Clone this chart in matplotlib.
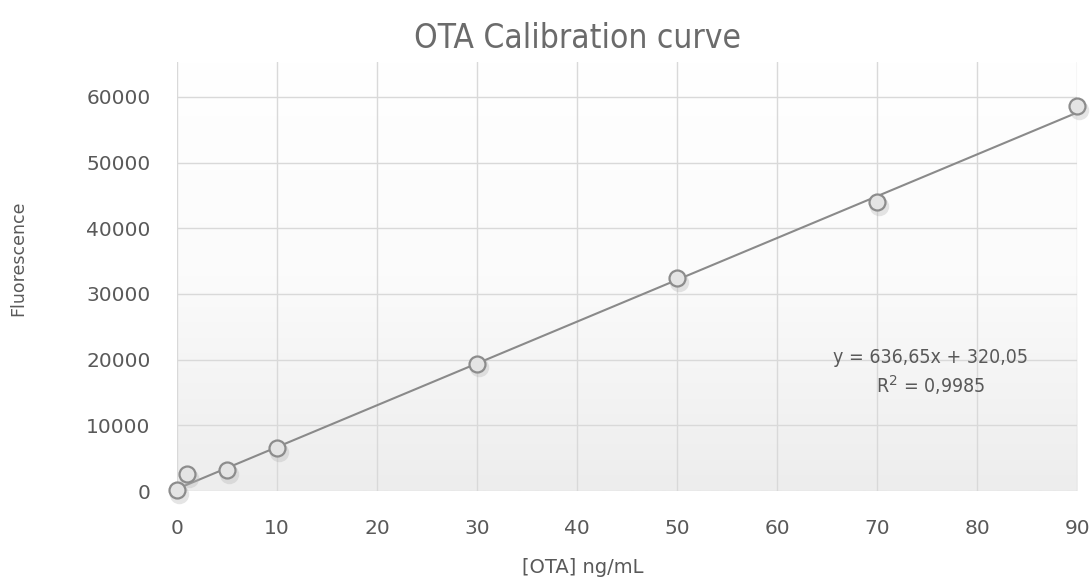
import numpy as np
import matplotlib.pyplot as plt
from matplotlib.colors import LinearSegmentedColormap

# calibration standards
conc = [0, 1, 5, 10, 30, 50, 70, 90]
fluor = [150, 2550, 3200, 6550, 19400, 32400, 44000, 58600]

# linear fit reported on the chart
slope, intercept, r2 = 636.65, 320.05, 0.9985

x_ticks = [0, 10, 20, 30, 40, 50, 60, 70, 80, 90]
y_ticks = [0, 10000, 20000, 30000, 40000, 50000, 60000]

fig = plt.figure(figsize=(10.91, 5.78), dpi=100)
ax = fig.add_axes([0.1622, 0.1505, 0.8253, 0.7422])

# soft vertical gradient behind the plot area (white at top, grey at bottom)
grad = np.linspace(0, 1, 256).reshape(-1, 1)
bg = LinearSegmentedColormap.from_list("bg", ["#ffffff", "#fbfbfb", "#ededed"])
ax.imshow(grad, extent=[0, 1, 0, 1], transform=ax.transAxes, aspect="auto",
          cmap=bg, zorder=0, interpolation="bilinear")

ax.set_xlim(0, 90)
ax.set_ylim(0, 65300)
ax.set_xticks(x_ticks)
ax.set_yticks(y_ticks)
ax.grid(True, color="#d9d9d9", linewidth=1)
ax.set_axisbelow(True)
for s in ax.spines.values():
    s.set_visible(False)
ax.tick_params(length=0, labelsize=14.5, colors="#595959")
ax.tick_params(axis="y", pad=19)
ax.tick_params(axis="x", pad=20)

xs = np.array([0, 90])
ax.plot(xs, slope * xs + intercept, color="#8a8a8a", linewidth=1.5, zorder=2)

# marker shadow, then markers
ax.plot(np.array(conc) + 0.2, np.array(fluor) - 550, "o", ms=14,
        color="#b5b5b5", alpha=0.35, markeredgewidth=0, zorder=3, clip_on=False)
ax.plot(conc, fluor, "o", ms=11.5, markerfacecolor="#e4e4e4",
        markeredgecolor="#8c8c8c", markeredgewidth=1.6, zorder=4, clip_on=False)

ax.text(0.837, 0.312, f"y = {slope:.2f}x + {intercept:.2f}".replace(".", ","),
        transform=ax.transAxes, ha="center", va="center", fontsize=14,
        color="#595959", fontstretch="condensed")
ax.text(0.837, 0.247, f"R$^2$ = {r2:.4f}".replace(".", ","),
        transform=ax.transAxes, ha="center", va="center", fontsize=14,
        color="#595959", fontstretch="condensed")

fig.text(0.529, 0.933, "OTA Calibration curve", ha="center", va="center",
         fontsize=24, color="#6b6b6b", fontstretch="condensed")
fig.text(0.017, 0.554, "Fluorescence", rotation=90, ha="center", va="center",
         fontsize=12.5, color="#595959")
fig.text(0.534, 0.019, "[OTA] ng/mL", ha="center", va="center",
         fontsize=14, color="#595959")

fig.savefig("out.png", dpi=100)
